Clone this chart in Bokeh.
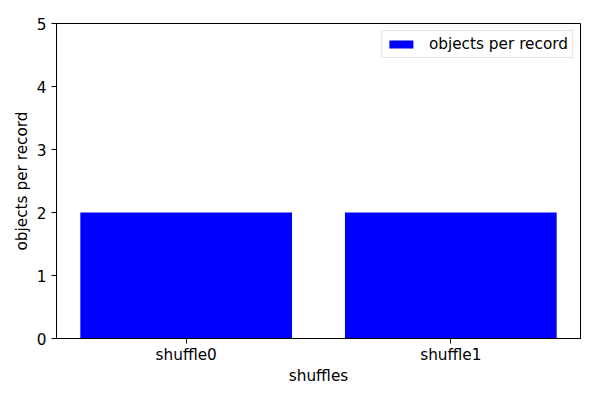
from bokeh.plotting import figure
from bokeh.models import Range1d, FixedTicker
from bokeh.embed import file_html
from bokeh.resources import INLINE

categories = ["shuffle0", "shuffle1"]
values = [2, 2]
y_ticks = [0, 1, 2, 3, 4, 5]
series_label = "objects per record"

xs = list(range(len(categories)))
FONT = "DejaVu Sans"
FS = "15.3px"

p = figure(frame_width=524, frame_height=315,
           min_border_left=56, min_border_right=20,
           min_border_top=23, min_border_bottom=62,
           x_range=Range1d(-0.49, len(categories) - 1 + 0.49),
           y_range=Range1d(0, 5),
           output_backend="svg", toolbar_location=None)

p.vbar(x=xs, top=values, bottom=0, width=0.8, fill_color="#0000ff",
       line_color=None, legend_label=series_label)

p.xgrid.visible = False
p.ygrid.visible = False
p.outline_line_color = "black"
p.outline_line_width = 1
p.outline_line_alpha = 1

p.xaxis.ticker = FixedTicker(ticks=xs)
p.xaxis.major_label_overrides = {i: c for i, c in zip(xs, categories)}
p.yaxis.ticker = FixedTicker(ticks=y_ticks)
p.xaxis.minor_tick_line_color = None
p.yaxis.minor_tick_line_color = None

for ax in (p.xaxis[0], p.yaxis[0]):
    ax.axis_line_color = "black"
    ax.major_tick_line_color = "black"
    ax.major_tick_out = 5
    ax.major_tick_in = 0
    ax.major_label_text_font = FONT
    ax.major_label_text_font_size = FS
    ax.major_label_text_color = "black"
    ax.axis_label_text_font = FONT
    ax.axis_label_text_font_size = FS
    ax.axis_label_text_font_style = "normal"
    ax.axis_label_text_color = "black"
    ax.major_label_standoff = 5

p.xaxis.major_label_standoff = 2
p.xaxis.axis_label = "shuffles"
p.yaxis.axis_label = "objects per record"
p.xaxis.axis_label_standoff = 0
p.yaxis.axis_label_standoff = 3

lg = p.legend[0]
lg.location = "top_right"
lg.margin = 7
lg.padding = 4
lg.spacing = 0
lg.glyph_width = 30
lg.glyph_height = 10
lg.label_standoff = 13
lg.label_text_font = FONT
lg.label_text_font_size = FS
lg.label_text_color = "black"
lg.border_line_color = "#cccccc"
lg.border_line_width = 1
lg.background_fill_alpha = 0.8

open("out.html", "w").write(file_html(p, INLINE))
